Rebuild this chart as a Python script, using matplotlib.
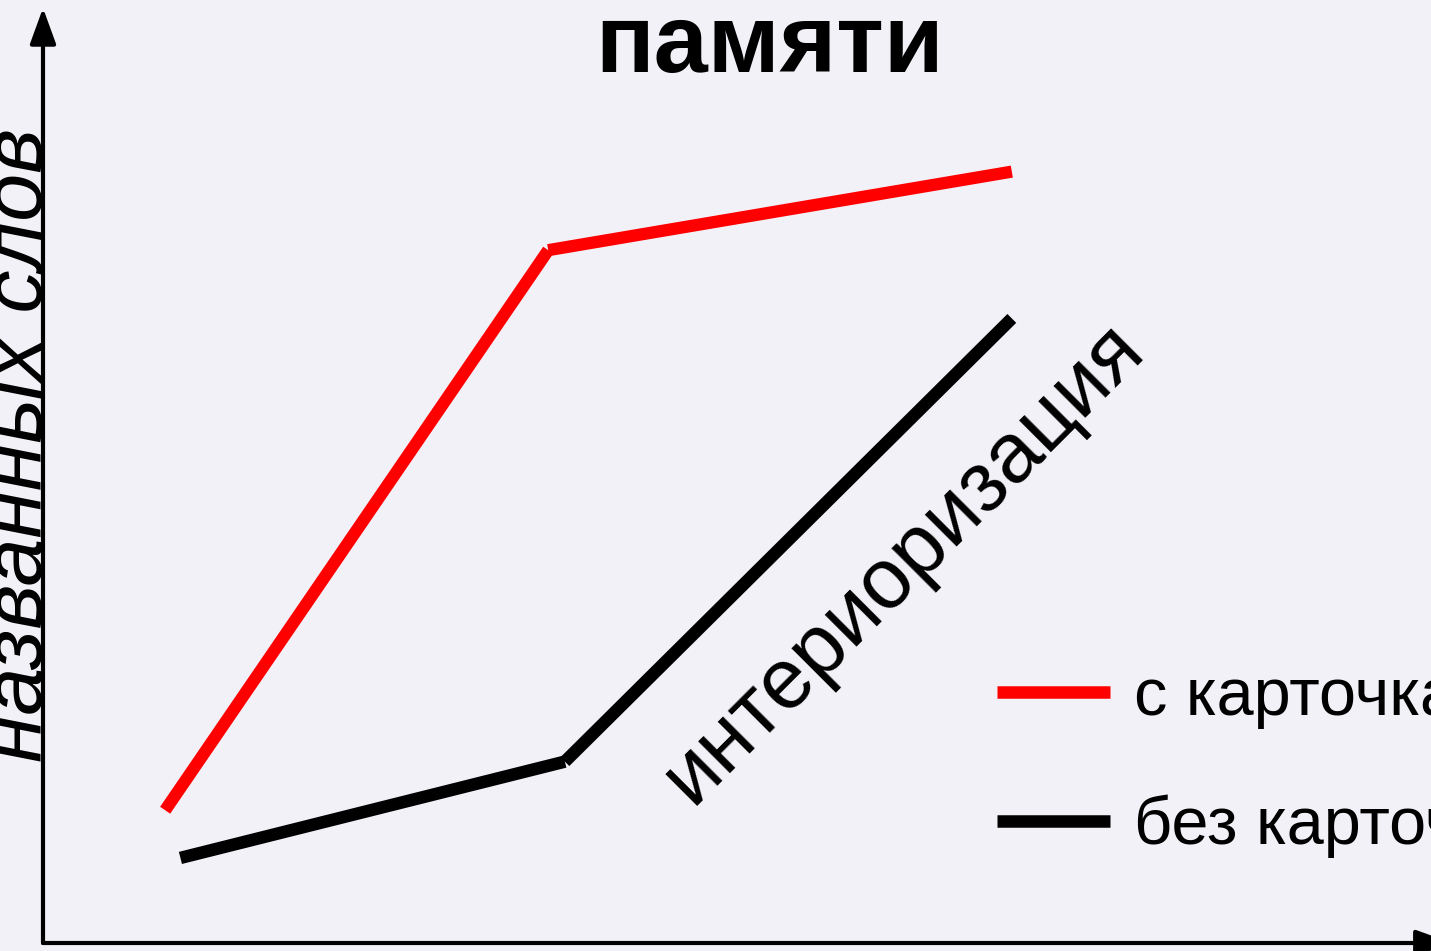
import matplotlib
matplotlib.use('Agg')
import matplotlib.pyplot as plt

plt.rcParams['font.family'] = ['Liberation Sans', 'DejaVu Sans']

# data (arbitrary units)
x_red = [0.88, 3.64, 6.98]
y_red = [1.42, 7.41, 8.25]
x_black = [0.99, 3.76, 6.98]
y_black = [0.91, 1.94, 6.68]
labels = ['с карточками', 'без карточек']

bg = '#F3F1F8'
W, H = 1431, 951

fig = plt.figure(figsize=(W / 100, H / 100), dpi=100, facecolor=bg)
ax = fig.add_axes([43 / W, 8 / H, (W - 43) / W, (H - 16) / H])
ax.set_facecolor(bg)
ax.set_xlim(0, 10)
ax.set_ylim(0, 10)
for s in ax.spines.values():
    s.set_visible(False)
ax.set_xticks([])
ax.set_yticks([])

# axes arrows
arrow = dict(arrowstyle='-|>,head_length=2.2,head_width=0.8', color='black', lw=3,
             shrinkA=0, shrinkB=0)
ax.annotate('', xy=(0, 1.0), xytext=(0, 0), xycoords='axes fraction',
            arrowprops=arrow, annotation_clip=False)
ax.annotate('', xy=(1.015, 0), xytext=(0, 0), xycoords='axes fraction',
            arrowprops=arrow, annotation_clip=False)

# each segment drawn on its own, as in the original slide
for i in range(len(x_red) - 1):
    l1, = ax.plot(x_red[i:i + 2], y_red[i:i + 2], color='#FF0000', lw=8.8,
                  solid_capstyle='butt')
for i in range(len(x_black) - 1):
    l2, = ax.plot(x_black[i:i + 2], y_black[i:i + 2], color='black', lw=9,
                  solid_capstyle='butt')

leg = fig.legend([l1, l2], labels, loc='upper left', bbox_to_anchor=(997 / W, 1 - 667 / H),
                 frameon=False, fontsize=48, handlelength=1.7, handletextpad=0.36,
                 labelspacing=0.98, borderaxespad=0, borderpad=0)
for ln in leg.get_lines():
    ln.set_linewidth(9)
    ln.set_solid_capstyle('butt')

fig.text(770 / W, 1 - 72 / H, 'памяти', fontsize=70, fontweight='bold',
         ha='center', va='baseline')
fig.text(42 / W, 1 - 445 / H, 'названных слов', fontsize=62, style='italic',
         rotation=90, rotation_mode='anchor', ha='center', va='baseline')
fig.text(919 / W, 1 - 579 / H, 'интериоризация', fontsize=61, rotation=45,
         rotation_mode='anchor', ha='center', va='baseline')

fig.savefig('out.png', dpi=100, facecolor=bg)
